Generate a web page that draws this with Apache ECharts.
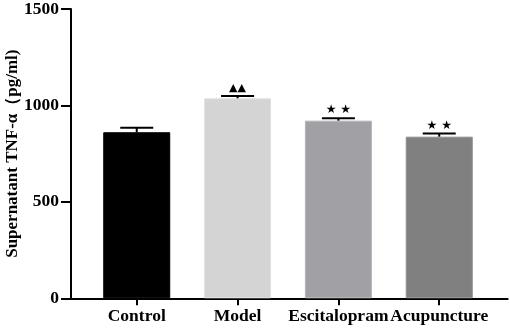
<!DOCTYPE html>
<html>
<head>
<meta charset="utf-8">
<script src="https://cdn.jsdelivr.net/npm/echarts@6/dist/echarts.min.js"></script>
<style>html,body{margin:0;padding:0;background:#fff}#c{width:510px;height:331px}</style>
</head>
<body>
<div id="c"></div>
<script>
const categories = ["Control", "Model", "Escitalopram", "Acupuncture"];
const means = [861, 1037, 921, 838];
const errors = [23, 12, 12, 17];
const marks = ["", "▲▲", "★ ★", "★ ★"];
const yTicks = [0, 500, 1000, 1500];
const barColors = ["#000000", "#d4d4d4", "#a1a1a5", "#808080"];
const barBorders = ["#000000", "#e2e2e2", "#b4b4b8", "#8e8e8e"];

const font = "Liberation Serif";
const chart = echarts.init(document.getElementById('c'));
const idx = categories.map((c, i) => i);

chart.setOption({
  animation: false,
  grid: { left: 71, right: 2.3, top: 9, bottom: 32.7, containLabel: false, outerBoundsMode: 'none' },
  xAxis: {
    type: 'value', min: -0.652, max: 3.679,
    splitLine: { show: false },
    axisLine: { show: true, onZero: false, lineStyle: { color: '#000', width: 2 } },
    axisTick: { show: true, customValues: idx, length: 7, lineStyle: { color: '#000', width: 2 } },
    axisLabel: { customValues: idx, formatter: v => categories[Math.round(v)], margin: 9, hideOverlap: false,
      fontFamily: font, fontWeight: 'bold', fontSize: 17.5, color: '#000' }
  },
  yAxis: {
    type: 'value', min: 0, max: 1500, interval: 500,
    name: 'Supernatant TNF-α（pg/ml)', nameLocation: 'middle', nameGap: 50, nameRotate: 90,
    nameMoveOverlap: false,
    nameTextStyle: { fontFamily: font, fontWeight: 'bold', fontSize: 17, color: '#000' },
    splitLine: { show: false },
    axisLine: { show: true, onZero: false, lineStyle: { color: '#000', width: 2 } },
    axisTick: { show: true, length: 10, lineStyle: { color: '#000', width: 2 } },
    axisLabel: { margin: 12, fontFamily: font, fontWeight: 'bold', fontSize: 17.5, color: '#000',
      formatter: v => yTicks.includes(v) ? String(v) : '' }
  },
  series: [
    {
      type: 'bar', barWidth: 67,
      data: means.map((m, i) => ({ value: [i, m], itemStyle: { color: barColors[i], borderColor: barBorders[i], borderWidth: 1 } }))
    },
    {
      type: 'custom', z: 10,
      data: means.map((m, i) => [i, m, errors[i]]),
      renderItem: function (params, api) {
        const i = params.dataIndex;
        const x = api.value(0), m = api.value(1), e = api.value(2);
        const pm = api.coord([x, m]);
        const pt = api.coord([x, m + e]);
        const hw = 16.5;
        const children = [
          { type: 'line', shape: { x1: pm[0], y1: pm[1], x2: pt[0], y2: pt[1] }, style: { stroke: '#000', lineWidth: 2 } },
          { type: 'line', shape: { x1: pt[0] - hw, y1: pt[1], x2: pt[0] + hw, y2: pt[1] }, style: { stroke: '#000', lineWidth: 2 } }
        ];
        if (marks[i]) {
          children.push({ type: 'text', style: { text: marks[i], x: pt[0], y: pt[1] - 2, align: 'center', verticalAlign: 'bottom',
            fontFamily: 'DejaVu Sans', fontSize: marks[i].indexOf('▲') >= 0 ? 11 : 12, fill: '#000' } });
        }
        return { type: 'group', children: children };
      }
    }
  ]
});
</script>
</body>
</html>
